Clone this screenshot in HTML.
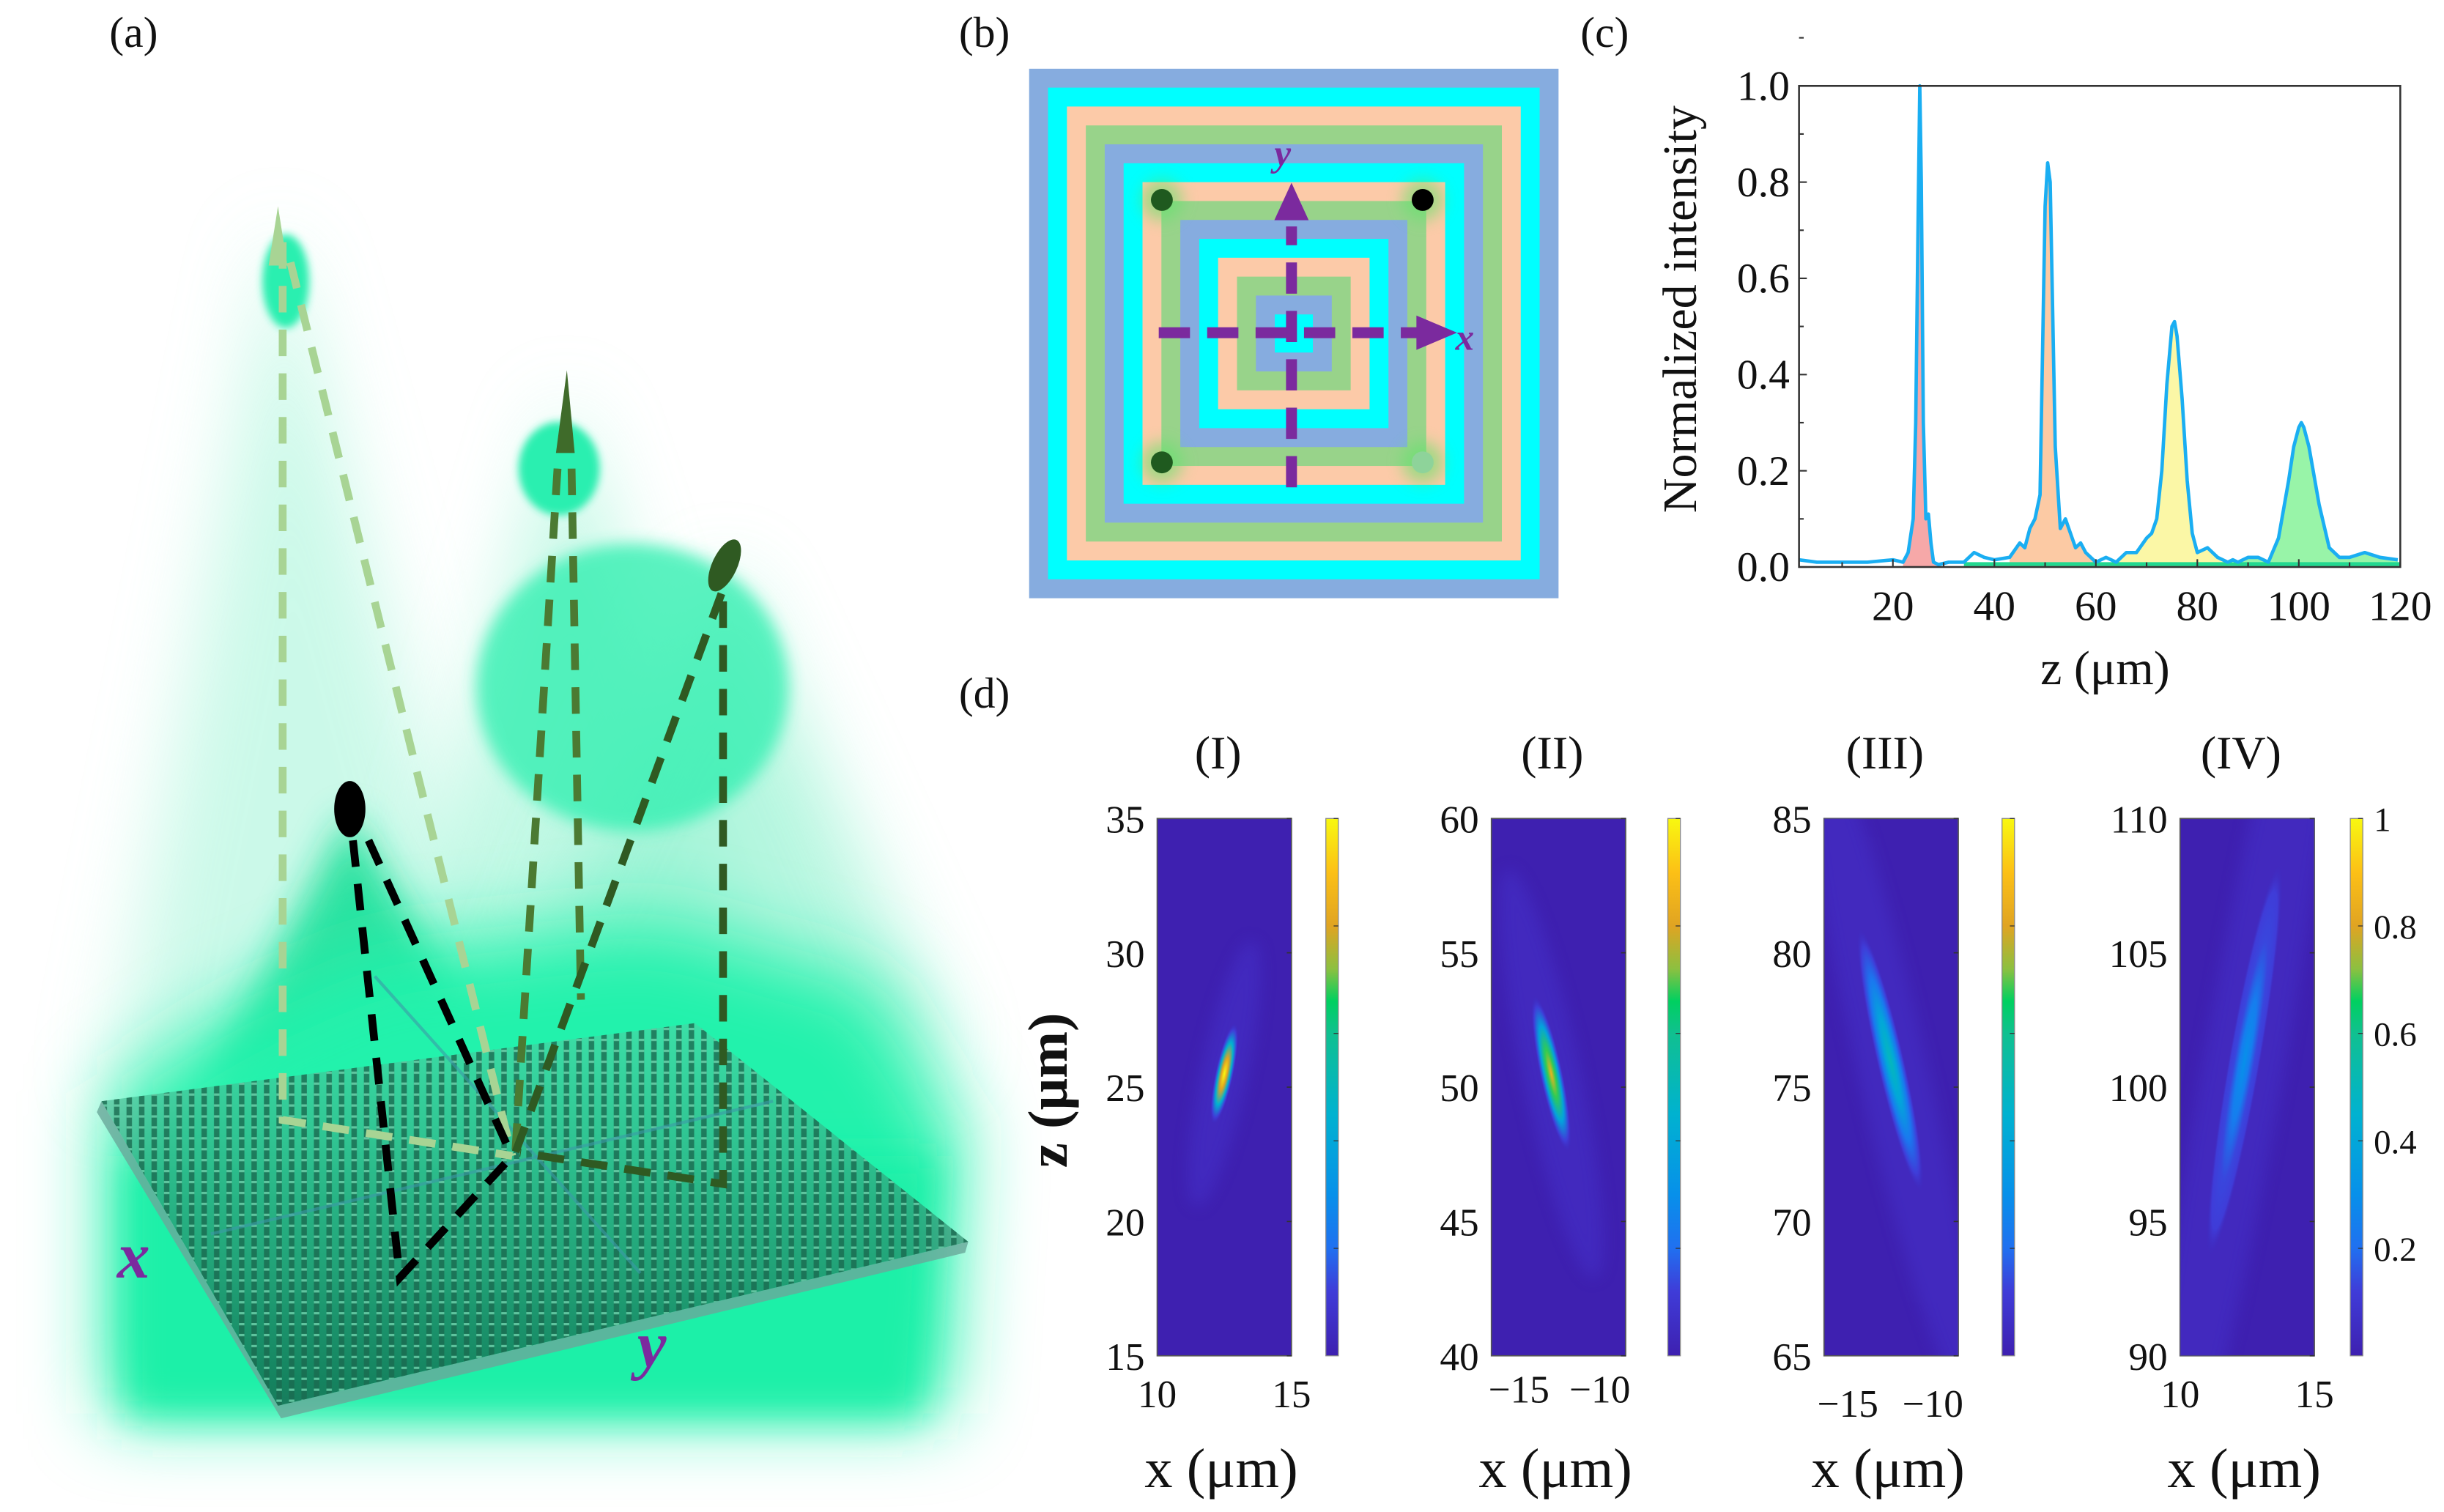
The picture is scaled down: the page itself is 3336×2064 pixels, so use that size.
<!DOCTYPE html>
<html><head><meta charset="utf-8"><style>
html,body{margin:0;padding:0;background:#fff;width:3336px;height:2064px;overflow:hidden;}
svg{display:block;}
text{font-family:"Liberation Serif","Times New Roman","DejaVu Serif",serif;fill:#111;}
</style></head><body>
<svg id="fig" width="3336" height="2064" viewBox="0 0 1565 968" preserveAspectRatio="none" xmlns="http://www.w3.org/2000/svg">
<defs>
  <filter id="b25" x="-50%" y="-50%" width="200%" height="200%"><feGaussianBlur stdDeviation="25"/></filter>
  <filter id="b12" x="-50%" y="-50%" width="200%" height="200%"><feGaussianBlur stdDeviation="12"/></filter>
  <filter id="b6" x="-50%" y="-50%" width="200%" height="200%"><feGaussianBlur stdDeviation="5"/></filter>
  <filter id="b3" x="-50%" y="-50%" width="200%" height="200%"><feGaussianBlur stdDeviation="2.5"/></filter>
  <pattern id="pillars" width="8" height="7" patternUnits="userSpaceOnUse">
    <rect x="1" y="0" width="3.5" height="7" fill="#1a6a50" opacity="0.8"/>
    <rect x="1" y="0" width="3.5" height="1.5" fill="#6fd8b0" opacity="0.8"/>
  </pattern>
  <linearGradient id="plateShade" x1="0" y1="0" x2="0" y2="1">
    <stop offset="0" stop-color="#4cd3a4" stop-opacity="0.6"/>
    <stop offset="1" stop-color="#0d4a38" stop-opacity="0.7"/>
  </linearGradient>
  <linearGradient id="parula" x1="0" y1="1" x2="0" y2="0">
    <stop offset="0" stop-color="#3e20b0"/>
    <stop offset="0.12" stop-color="#3f3cd8"/>
    <stop offset="0.2" stop-color="#2070f0"/>
    <stop offset="0.3" stop-color="#0790ea"/>
    <stop offset="0.45" stop-color="#00b2d0"/>
    <stop offset="0.6" stop-color="#10c090"/>
    <stop offset="0.66" stop-color="#00d060"/>
    <stop offset="0.72" stop-color="#8cc040"/>
    <stop offset="0.8" stop-color="#e0a422"/>
    <stop offset="0.9" stop-color="#fcc016"/>
    <stop offset="1" stop-color="#f8f810"/>
  </linearGradient>
</defs>

<text x="70" y="30" font-size="28">(a)</text>
<text x="614" y="30" font-size="28">(b)</text>
<text x="1012" y="30" font-size="28">(c)</text>
<text x="614" y="453" font-size="28">(d)</text>

<g id="panelA">
  <polygon points="178,140 70,700 330,700" fill="#b6f7e0" opacity="0.7" filter="url(#b25)"/>
  <polygon points="362,250 250,640 490,640" fill="#a4f5d8" opacity="0.65" filter="url(#b25)"/>
  <polygon points="465,360 310,680 610,680" fill="#8ff2cf" opacity="0.65" filter="url(#b25)"/>
  <ellipse cx="405" cy="440" rx="100" ry="92" fill="#34f0b2" opacity="0.8" filter="url(#b6)"/>
  <polygon points="224,520 130,700 330,700" fill="#1ee09a" opacity="0.9" filter="url(#b12)"/>
  <path d="M70,700 L150,650 L240,610 L420,590 L560,630 L615,720 L605,905 L70,905 Z" fill="#22f2ac" filter="url(#b25)"/>
  <path d="M80,740 L80,905 L590,905 L600,740 Z" fill="#1ef0a8" filter="url(#b12)"/>
  <ellipse cx="183" cy="180" rx="15" ry="30" fill="#2cefb0" filter="url(#b3)"/>
  <ellipse cx="358" cy="300" rx="26" ry="30" fill="#2cefb0" filter="url(#b3)"/>

  <polygon points="65,705 445,655 620,795 178,900" fill="url(#plateShade)"/>
  <polygon points="65,705 445,655 620,795 178,900" fill="url(#pillars)"/>
  <polygon points="65,705 178,900 620,795 618,802 180,908 62,712" fill="#6aa89a" opacity="0.8"/>
  <line x1="240" y1="625" x2="410" y2="815" stroke="#3c9aa8" stroke-width="2" opacity="0.6"/>
  <line x1="135" y1="790" x2="495" y2="705" stroke="#3c9aa8" stroke-width="2" opacity="0.6"/>

  <g fill="none" stroke-width="5" stroke-dasharray="17 11">
    <path d="M181,155 L181,717 L328,740" stroke="#a8d494"/>
    <path d="M186,168 L328,740" stroke="#a8d494"/>
    <path d="M357,300 L330,738" stroke="#4b7a32"/>
    <path d="M366,300 L372,640" stroke="#4b7a32"/>
    <path d="M462,380 L330,738" stroke="#2f5a22"/>
    <path d="M463,385 L463,758 L333,738" stroke="#2f5a22"/>
    <path d="M226,538 L256,818 L328,740" stroke="#000"/>
    <path d="M236,538 L326,736" stroke="#000"/>
  </g>
  <path d="M178,132 L172,170 L184,170 Z" fill="#a8d494"/>
  <path d="M363,237 L356,290 L368,290 Z" fill="#3f6b2a"/>
  <ellipse cx="464" cy="362" rx="8" ry="18" transform="rotate(25 464 362)" fill="#2f5a22"/>
  <ellipse cx="224" cy="518" rx="10" ry="18" fill="#000"/>
  <text x="75" y="818" font-size="42" font-style="italic" font-weight="bold" style="fill:#7b2a9e">x</text>
  <text x="408" y="875" font-size="42" font-style="italic" font-weight="bold" style="fill:#7b2a9e">y</text>
</g>

<g id="panelB"></g>
<g id="panelC"></g>
<g id="panelD"></g>
</svg>

<script>
// ===== Panel C data =====
const cTicksX = [20, 40, 60, 80, 100, 120];
const cTicksY = [0.0, 0.2, 0.4, 0.6, 0.8, 1.0];
const peak1Z = [22, 23, 24, 24.5, 25, 25.3, 25.6, 26, 26.5, 27, 27.5, 28, 29];
const peak1V = [0.01, 0.03, 0.1, 0.3, 0.75, 1.0, 0.8, 0.3, 0.1, 0.11, 0.05, 0.01, 0.005];
const peak2Z = [43, 45, 46, 47, 48, 49, 50, 50.5, 51, 52, 53, 54, 55, 56, 57, 58, 60];
const peak2V = [0.02, 0.05, 0.04, 0.08, 0.1, 0.15, 0.75, 0.84, 0.8, 0.25, 0.08, 0.1, 0.07, 0.04, 0.05, 0.03, 0.01];
const peak3Z = [64, 66, 68, 70, 71, 72, 73, 74, 75, 75.5, 76, 77, 78, 79, 80, 82, 84, 86];
const peak3V = [0.01, 0.03, 0.03, 0.06, 0.07, 0.1, 0.2, 0.38, 0.5, 0.51, 0.48, 0.35, 0.18, 0.07, 0.03, 0.04, 0.02, 0.01];
const peak4Z = [88, 90, 92, 94, 96, 98, 99, 100, 100.5, 101, 102, 104, 106, 108, 110, 113, 116, 119.5];
const peak4V = [0.01, 0.02, 0.02, 0.01, 0.06, 0.18, 0.25, 0.29, 0.3, 0.29, 0.25, 0.13, 0.04, 0.02, 0.02, 0.03, 0.02, 0.015];
const baseZ = [1.5, 5, 10, 15, 20, 31, 34, 36, 38, 40, 62, 87];
const baseV = [0.015, 0.01, 0.01, 0.01, 0.015, 0.01, 0.01, 0.03, 0.02, 0.015, 0.02, 0.015];
const peakFills = ['#f6a8a8', '#fccaa4', '#fbf7a6', '#98f4a8'];

// ===== Panel D data =====
const dTitles = ['(I)', '(II)', '(III)', '(IV)'];
const dZMin = [15, 40, 65, 90];
const dZMax = [35, 60, 85, 110];
const dZTicks = [[15,20,25,30,35],[40,45,50,55,60],[65,70,75,80,85],[90,95,100,105,110]];
const dXMin = [10, -16.7, -16.4, 10];
const dXMax = [15, -8.4, -8.5, 15];
const dXTicks = [[10,15],[-15,-10],[-15,-10],[10,15]];
const spotX = [12.5, -13.0, -12.5, 12.4];
const spotZ = [25.5, 50.5, 76.0, 101.0];
const spotPeak = [1.0, 0.85, 0.5, 0.3];
const spotLenZ = [1.3, 2.0, 3.4, 5.0];
const spotTilt = [12, -12, -13, 10];
const cbTicks = [0.2, 0.4, 0.6, 0.8, 1];

const NS = 'http://www.w3.org/2000/svg';
function mk(tag, attrs, parent) {
  const e = document.createElementNS(NS, tag);
  for (const k in attrs) e.setAttribute(k, attrs[k]);
  parent.appendChild(e);
  return e;
}

(function(){
  const g = document.getElementById('panelB');
  const x0 = 659, y0 = 44, size = 339, step = 12.1;
  const cols = ['#86acdf', '#00ffff', '#fccaa8', '#98d38a'];
  for (let i = 0; i < 14; i++) {
    const r = mk('rect', {x: x0 + i*step, y: y0 + i*step, width: size - 2*i*step, height: size - 2*i*step, fill: cols[i % 4]}, g);
    
    
  }
  const dots = [[744,128,'#1f5a1f'],[911,128,'#000'],[744,296,'#1f5a1f'],[911,296,'#8ed39a']];
  dots.forEach((d, i) => {
    const gl = mk('circle', {cx: d[0], cy: d[1], r: 13, fill: '#5ee36a', opacity: 0.6, filter: 'url(#b6)'}, g);
    
    
    const c = mk('circle', {cx: d[0], cy: d[1], r: 7, fill: d[2]}, g);
    
    
  });
  const purple = '#7b2a9e';
  const v = mk('line', {x1: 827, y1: 312, x2: 827, y2: 145, stroke: purple, 'stroke-width': 7, 'stroke-dasharray': '20 11'}, g);
  
  
  const va = mk('polygon', {points: '827,117 816,141 838,141', fill: purple}, g);
  
  
  const h = mk('line', {x1: 742, y1: 213, x2: 908, y2: 213, stroke: purple, 'stroke-width': 7, 'stroke-dasharray': '20 11'}, g);
  
  
  const ha = mk('polygon', {points: '933,213 907,202 907,224', fill: purple}, g);
  
  
  const ty = mk('text', {x: 816, y: 106, 'font-size': 24, 'font-style': 'italic', 'font-weight': 'bold', style: 'fill:' + purple}, g);
  ty.textContent = 'y';
  
  
  const tx = mk('text', {x: 932, y: 224, 'font-size': 24, 'font-style': 'italic', 'font-weight': 'bold', style: 'fill:' + purple}, g);
  tx.textContent = 'x';
  
  
})();

(function(){
  const g = document.getElementById('panelC');
  const L = 1152, R = 1537, T = 55, B = 363;
  const xmin = 1.5, xmax = 120;
  const sx = z => L + (z - xmin) / (xmax - xmin) * (R - L);
  const sy = v => B - v * (B - T);
  const peaks = [[peak1Z, peak1V], [peak2Z, peak2V], [peak3Z, peak3V], [peak4Z, peak4V]];
  peaks.forEach((p, i) => {
    let d = 'M' + sx(p[0][0]) + ',' + sy(0);
    p[0].forEach((z, j) => { d += ' L' + sx(z) + ',' + sy(p[1][j]); });
    d += ' L' + sx(p[0][p[0].length - 1]) + ',' + sy(0) + ' Z';
    const a = mk('path', {d: d, fill: peakFills[i], stroke: 'none'}, g);
    
    
  });
  const gl = mk('line', {x1: sx(34), y1: sy(0.006), x2: sx(120), y2: sy(0.006), stroke: '#22d890', 'stroke-width': 2.5}, g);
  
  
  let pts = [];
  baseZ.forEach((z, i) => pts.push([z, baseV[i]]));
  peaks.forEach(p => p[0].forEach((z, j) => pts.push([z, p[1][j]])));
  pts.sort((a, b) => a[0] - b[0]);
  const line = mk('polyline', {points: pts.map(p => sx(p[0]) + ',' + sy(p[1])).join(' '), fill: 'none', stroke: '#1aaef2', 'stroke-width': 2.2, 'stroke-linejoin': 'round'}, g);
  
  
  const frame = mk('rect', {x: L, y: T, width: R - L, height: B - T, fill: 'none', stroke: '#333', 'stroke-width': 1.2}, g);
  
  
  cTicksY.forEach(v => {
    const t = mk('line', {x1: L, y1: sy(v), x2: L + 5, y2: sy(v), stroke: '#333', 'stroke-width': 1}, g);
    
    
    const m = mk('line', {x1: L, y1: sy(v + 0.1), x2: L + 3, y2: sy(v + 0.1), stroke: '#333', 'stroke-width': 1}, g);
    
    
    const tx = mk('text', {x: L - 6, y: sy(v) + 9, 'font-size': 27, 'text-anchor': 'end'}, g);
    tx.textContent = v.toFixed(1);
    
    
  });
  cTicksX.forEach(v => {
    const t = mk('line', {x1: sx(v), y1: B, x2: sx(v), y2: B - 5, stroke: '#333', 'stroke-width': 1}, g);
    
    
    const m = mk('line', {x1: sx(v - 10), y1: B, x2: sx(v - 10), y2: B - 3, stroke: '#333', 'stroke-width': 1}, g);
    
    
    const tx = mk('text', {x: sx(v), y: B + 34, 'font-size': 27, 'text-anchor': 'middle'}, g);
    tx.textContent = String(v);
    
    
  });
  const yl = mk('text', {x: 0, y: 0, 'font-size': 31, 'text-anchor': 'middle', transform: 'translate(1086,198) rotate(-90)'}, g);
  yl.textContent = 'Normalized intensity';
  
  
  const xl = mk('text', {x: 1348, y: 438, 'font-size': 31, 'text-anchor': 'middle'}, g);
  xl.textContent = 'z (μm)';
  
  
})();

function parula(t) {
  const st = [[0,[62,32,176]],[0.12,[63,60,216]],[0.2,[32,112,240]],[0.3,[7,144,234]],[0.45,[0,178,208]],[0.6,[16,192,144]],[0.66,[0,208,96]],[0.72,[140,192,64]],[0.8,[224,164,34]],[0.9,[252,192,22]],[1,[248,248,16]]];
  t = Math.max(0, Math.min(1, t));
  for (let i = 1; i < st.length; i++) {
    if (t <= st[i][0]) {
      const f = (t - st[i-1][0]) / (st[i][0] - st[i-1][0]);
      const c = st[i-1][1].map((v, k) => Math.round(v + f * (st[i][1][k] - v)));
      return 'rgb(' + c.join(',') + ')';
    }
  }
  return 'rgb(248,248,16)';
}
(function(){
  const g = document.getElementById('panelD');
  const defs = document.querySelector('defs');
  const lefts = [741, 955, 1168, 1396];
  const cbLefts = [849, 1068, 1282, 1505];
  const W = 86, T = 524, B = 868;
  for (let i = 0; i < 4; i++) {
    const L = lefts[i], R = L + W;
    const sx = x => L + (x - dXMin[i]) / (dXMax[i] - dXMin[i]) * W;
    const sy = z => B - (z - dZMin[i]) / (dZMax[i] - dZMin[i]) * (B - T);
    const title = mk('text', {x: L + W/2 - 4, y: 492, 'font-size': 30, 'text-anchor': 'middle'}, g);
    title.textContent = dTitles[i];
    
    
    const bg = mk('rect', {x: L, y: T, width: W, height: B - T, fill: '#3e20b0', stroke: '#555', 'stroke-width': 0.8}, g);
    
    
    const cp = mk('clipPath', {id: 'clip' + i}, defs);
    mk('rect', {x: L, y: T, width: W, height: B - T}, cp);
    const gg = mk('g', {'clip-path': 'url(#clip' + i + ')'}, g);
    const gid = 'spot' + i;
    const rg = mk('radialGradient', {id: gid}, defs);
    const p = spotPeak[i];
    [[0, p], [0.3, p * 0.8], [0.6, p * 0.45], [0.85, 0.12], [1, 0.03]].forEach(s => {
      mk('stop', {offset: s[0], 'stop-color': parula(s[1]), 'stop-opacity': s[0] === 1 ? 0 : 1}, rg);
    });
    const cx = sx(spotX[i]), cy = sy(spotZ[i]);
    const ryPx = spotLenZ[i] / (dZMax[i] - dZMin[i]) * (B - T) * 1.5;
    const rxPx = 6 + i * 1.5;
    const halo = mk('ellipse', {cx: cx, cy: cy, rx: rxPx * 2.5, ry: ryPx * 2.6, fill: '#4636d0', opacity: 0.45, filter: 'url(#b6)', transform: 'rotate(' + spotTilt[i] + ' ' + cx + ' ' + cy + ')'}, gg);
    
    
    const sp = mk('ellipse', {cx: cx, cy: cy, rx: rxPx, ry: ryPx, fill: 'url(#' + gid + ')', transform: 'rotate(' + spotTilt[i] + ' ' + cx + ' ' + cy + ')'}, gg);
    
    
    dZTicks[i].forEach(z => {
      const t = mk('text', {x: L - 8, y: sy(z) + 9, 'font-size': 25, 'text-anchor': 'end'}, g);
      t.textContent = String(z);
      
      
      const tk = mk('line', {x1: R, y1: sy(z), x2: R - 3, y2: sy(z), stroke: '#333', 'stroke-width': 0.8}, g);
      
      
    });
    dXTicks[i].forEach(x => {
      const t = mk('text', {x: sx(x), y: 901 + (i === 2 ? 6 : 0) - (i === 1 ? 3 : 0), 'font-size': 25, 'text-anchor': 'middle'}, g);
      t.textContent = x < 0 ? '\u2212' + Math.abs(x) : String(x);
      
      
    });
    const xl = mk('text', {x: L + W/2 - 2, y: 952, 'font-size': 36, 'text-anchor': 'middle'}, g);
    xl.textContent = 'x (μm)';
    
    
    const cb = mk('rect', {x: cbLefts[i], y: T, width: 8, height: B - T, fill: 'url(#parula)', stroke: '#888', 'stroke-width': 0.6}, g);
    
    
    cbTicks.forEach(v => {
      const yy = B - v * (B - T);
      const tk = mk('line', {x1: cbLefts[i] + 8, y1: yy, x2: cbLefts[i] + 5, y2: yy, stroke: '#333', 'stroke-width': 0.6}, g);
      
      
      if (i === 3) {
        const t = mk('text', {x: cbLefts[i] + 15, y: yy + 8, 'font-size': 22}, g);
        t.textContent = String(v);
        
        
      }
    });
  }
  const zl = mk('text', {x: 0, y: 0, 'font-size': 36, 'font-weight': 'bold', 'text-anchor': 'middle', transform: 'translate(683,698) rotate(-90)'}, g);
  zl.textContent = 'z (μm)';
  
  
})();
</script>
</body></html>
